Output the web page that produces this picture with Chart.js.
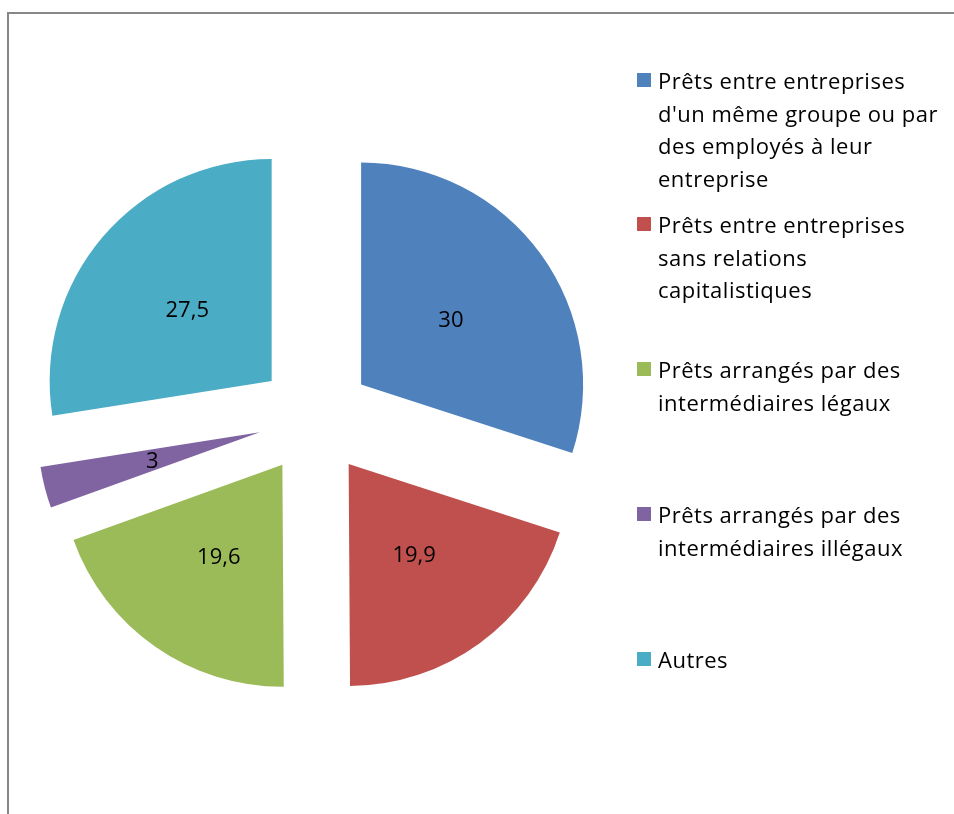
<!DOCTYPE html>
<html>
<head>
<meta charset="utf-8">
<script src="https://cdn.jsdelivr.net/npm/chart.js@4/dist/chart.umd.min.js"></script>
<style>
  html, body { margin: 0; padding: 0; background: #fff; overflow: hidden; }
  #wrap { position: relative; width: 954px; height: 814px; }
  #frame { position: absolute; left: 7px; top: 12px; width: 1000px; height: 900px; border: 2px solid #878787; }
  #chart { position: absolute; left: 0; top: 0; }
  #legend { position: absolute; left: 637px; top: 0; font-family: "Open Sans", sans-serif; font-size: 22px; letter-spacing: 0.5px; color: #000; }
  .item { position: absolute; left: 0; white-space: nowrap; line-height: 32.5px; }
  .box { position: absolute; left: 0; top: 9px; width: 14px; height: 14px; }
  .txt { position: absolute; left: 21px; top: 0; }
</style>
</head>
<body>
<div id="wrap">
  <div id="frame"></div>
  <canvas id="chart" width="954" height="814"></canvas>
  <div id="legend"></div>
</div>
<script>
// categories (legend lines as they wrap in the original)
var categories = [
  ["Prêts entre entreprises", "d'un même groupe ou par", "des employés à leur", "entreprise"],
  ["Prêts entre entreprises", "sans relations", "capitalistiques"],
  ["Prêts arrangés par des", "intermédiaires légaux"],
  ["Prêts arrangés par des", "intermédiaires illégaux"],
  ["Autres"]
];
var values = [30, 19.9, 19.6, 3, 27.5];
var colors = ["#4F81BD", "#C0504D", "#9BBB59", "#8064A2", "#4BACC6"];

var RADIUS = 222;
var EXPLODE = 57; // how far each slice is pulled out, px

// chart.js grows thin slices (radius + narrower angle) when offset is set,
// undo that so every slice keeps the same radius and its full angle
var evenExplode = {
  id: 'evenExplode',
  afterDatasetsUpdate: function (chart) {
    chart.getDatasetMeta(0).data.forEach(function (arc) {
      var fix = 1 - Math.sin(Math.min(Math.PI, arc.circumference));
      var ro = EXPLODE * fix;
      if (ro <= 0) return;
      arc.outerRadius = RADIUS - ro;
      var widen = ro / (Math.PI * RADIUS) / 2;
      arc.startAngle -= widen;
      arc.endAngle += widen;
    });
  }
};

// value labels at half radius inside each exploded slice
var sliceLabels = {
  id: 'sliceLabels',
  afterDatasetsDraw: function (chart) {
    var c = chart.ctx;
    var meta = chart.getDatasetMeta(0);
    c.save();
    c.font = '22px "Open Sans", sans-serif';
    c.fillStyle = '#000';
    c.textAlign = 'center';
    c.textBaseline = 'alphabetic';
    meta.data.forEach(function (arc, i) {
      var mid = (arc.startAngle + arc.endAngle) / 2;
      var d = EXPLODE + RADIUS / 2;
      var x = arc.x + Math.cos(mid) * d;
      var y = arc.y + Math.sin(mid) * d;
      c.fillText(String(values[i]).replace('.', ','), x, y + 8);
    });
    c.restore();
  }
};

new Chart(document.getElementById('chart'), {
  type: 'pie',
  data: {
    labels: categories,
    datasets: [{
      data: values,
      backgroundColor: colors,
      borderWidth: 0,
      radius: RADIUS,
      offset: EXPLODE * 4, // chart.js draws offset / 4
      hoverOffset: 0
    }]
  },
  options: {
    responsive: false,
    animation: false,
    layout: { padding: { left: 0, right: 324, top: 22, bottom: 0 } },
    plugins: {
      legend: { display: false },
      tooltip: { enabled: false }
    },
    events: []
  },
  plugins: [evenExplode, sliceLabels]
});

// legend on the right, one entry per category
var tops = [64, 208, 353, 498, 643];
var legend = document.getElementById('legend');
categories.forEach(function (lines, i) {
  var item = document.createElement('div');
  item.className = 'item';
  item.style.top = tops[i] + 'px';
  var box = document.createElement('div');
  box.className = 'box';
  box.style.background = colors[i];
  var txt = document.createElement('div');
  txt.className = 'txt';
  txt.innerHTML = lines.join('<br>');
  item.appendChild(box);
  item.appendChild(txt);
  legend.appendChild(item);
});
</script>
</body>
</html>
